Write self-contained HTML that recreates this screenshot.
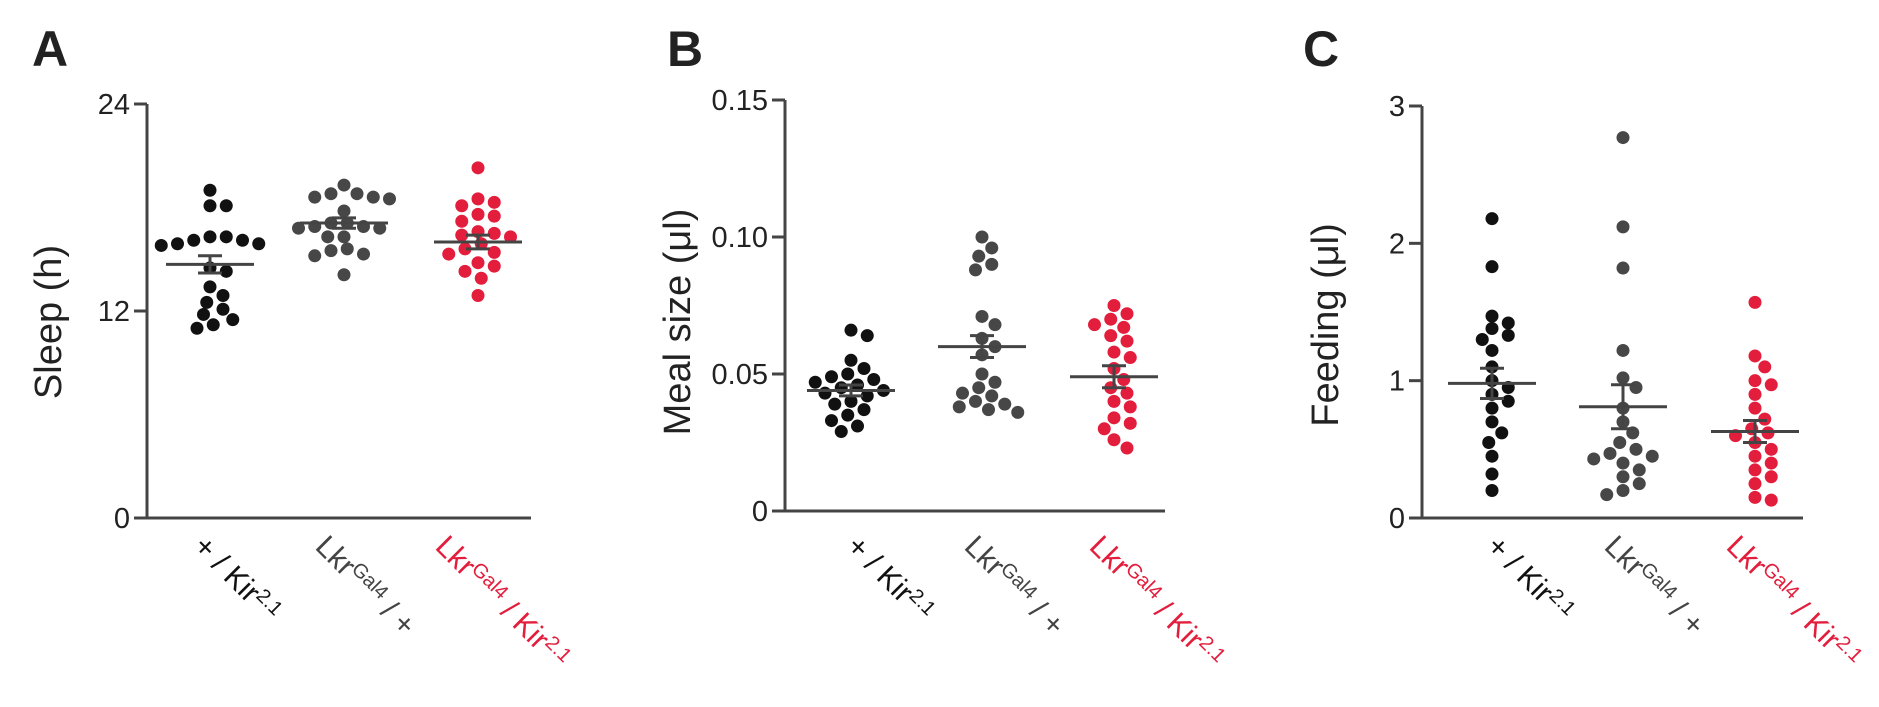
<!DOCTYPE html>
<html><head><meta charset="utf-8"><style>
html,body{margin:0;padding:0;background:#fff;}
svg{display:block;font-family:"Liberation Sans",Arial,sans-serif;}
</style></head><body>
<svg id="fig" width="1879" height="707" viewBox="0 0 1879 707" xmlns="http://www.w3.org/2000/svg"></svg>
<script>
const groups = ["+ / Kir2.1", "LkrGal4 / +", "LkrGal4 / Kir2.1"];
const sleepCtrl1 = [19.0,18.1,18.1,16.3,16.1,15.9,15.8,15.9,16.1,16.3,14.3,14.5,13.4,12.9,12.5,12.1,11.8,11.5,11.2,11.0];
const sleepCtrl2 = [19.3,18.8,18.6,18.5,18.6,18.8,17.8,17.1,16.9,16.8,16.8,16.9,17.1,16.3,16.3,15.6,15.3,15.2,15.5,14.1];
const sleepExp = [20.3,18.3,18.5,18.1,17.5,17.6,17.2,16.6,16.5,16.4,16.3,15.9,15.6,15.4,15.3,14.8,14.6,14.3,13.9,12.9];
const sleepMeans = [14.7,17.1,16.0];
const sleepSem = [0.5,0.3,0.4];
const mealCtrl1 = [0.066,0.064,0.055,0.052,0.050,0.049,0.048,0.047,0.046,0.045,0.044,0.043,0.042,0.040,0.039,0.037,0.035,0.033,0.031,0.029];
const mealCtrl2 = [0.100,0.096,0.093,0.090,0.088,0.071,0.068,0.063,0.060,0.057,0.050,0.047,0.045,0.043,0.042,0.040,0.039,0.038,0.037,0.036];
const mealExp = [0.075,0.072,0.070,0.068,0.067,0.064,0.062,0.058,0.056,0.052,0.048,0.045,0.043,0.040,0.038,0.034,0.032,0.030,0.026,0.023];
const mealMeans = [0.044,0.060,0.049];
const mealSem = [0.002,0.004,0.004];
const feedCtrl1 = [2.18,1.83,1.47,1.42,1.38,1.33,1.30,1.22,1.10,1.00,0.95,0.90,0.85,0.80,0.70,0.62,0.55,0.45,0.32,0.20];
const feedCtrl2 = [2.77,2.12,1.82,1.22,1.02,0.95,0.80,0.70,0.62,0.55,0.50,0.47,0.45,0.43,0.40,0.35,0.30,0.25,0.20,0.17];
const feedExp = [1.57,1.18,1.10,1.00,0.97,0.90,0.80,0.72,0.65,0.62,0.60,0.55,0.50,0.45,0.40,0.35,0.30,0.25,0.15,0.13];
const feedMeans = [0.98,0.81,0.63];
const feedSem = [0.11,0.16,0.08];
const sleepTicks = [0,12,24];
const mealTicks = [0,0.05,0.10,0.15];
const mealTickLabels = ["0","0.05","0.10","0.15"];
const feedTicks = [0,1,2,3];

const NS="http://www.w3.org/2000/svg";
const svg=document.getElementById('fig');
const colors=["#111111","#474747","#e31d3c"];
function mk(tag,attrs,parent){const e=document.createElementNS(NS,tag);for(const k in attrs)e.setAttribute(k,attrs[k]);(parent||svg).appendChild(e);return e;}

function swarm(vals,yf,r){
  const idx=vals.map((v,i)=>i).sort((a,b)=>vals[b]-vals[a]);
  const placed=[];const out=new Array(vals.length);
  const D=2*r+3;
  for(const i of idx){
    const y=yf(vals[i]);let best=0;
    for(let k=0;k<60;k++){
      const cands=k===0?[0]:[k*r*0.5,-k*r*0.5];let ok=null;
      for(const c of cands){if(placed.every(p=>Math.hypot(p.x-c,(p.y-y)*1.3)>=D)){ok=c;break;}}
      if(ok!==null){best=ok;break;}
    }
    placed.push({x:best,y:y});out[i]={dx:best,y:y};
  }
  return out;
}

function panel(o){
  const g=mk('g',{});
  
  
  const y=v=>o.y0+(o.y1-o.y0)*(v-o.vmin)/(o.vmax-o.vmin);
  const letter=mk('text',{x:o.letterX,y:66,'font-size':50,'font-weight':'bold',fill:'#222'},g);
  letter.textContent=o.letter;
  
  
  const ya=mk('line',{x1:o.ax,y1:y(o.vmax),x2:o.ax,y2:o.y0+1.5,stroke:'#444','stroke-width':3},g);
  
  
  const xa=mk('line',{x1:o.ax-1.5,y1:o.y0,x2:o.xend,y2:o.y0,stroke:'#444','stroke-width':3},g);
  
  
  o.ticks.forEach((t,i)=>{
    const tk=mk('line',{x1:o.ax-13,y1:y(t),x2:o.ax,y2:y(t),stroke:'#444','stroke-width':3},g);
    
    
    const tl=mk('text',{x:o.ax-17,y:y(t)+10,'font-size':29,'text-anchor':'end',fill:'#222'},g);
    tl.textContent=o.tickLabels[i];
    
    
  });
  const tt=mk('text',{x:0,y:0,'font-size':38,'text-anchor':'middle',fill:'#222',transform:`translate(${o.titleX},${o.titleY}) rotate(-90)`},g);
  tt.textContent=o.title;
  
  
  o.series.forEach((vals,gi)=>{
    const cx=o.cx[gi];
    const pts=swarm(vals,y,6.5);
    pts.forEach(p=>{
      const c=mk('circle',{cx:cx+p.dx,cy:p.y,r:6.5,fill:colors[gi]},g);
      
      
    });
    const m=y(o.means[gi]),hi=y(o.means[gi]+o.sem[gi]),lo=y(o.means[gi]-o.sem[gi]);
    const ml=mk('line',{x1:cx-44,y1:m,x2:cx+44,y2:m,stroke:'#444','stroke-width':3},g);
    
    
    const eb=mk('path',{d:`M${cx},${hi}V${lo}M${cx-12},${hi}H${cx+12}M${cx-12},${lo}H${cx+12}`,stroke:'#444','stroke-width':3,fill:'none'},g);
    
    
    const lx=o.lab[gi];
    const lt=mk('text',{x:0,y:0,'font-size':30,fill:gi===2?'#e31d3c':(gi===1?'#444':'#111'),transform:`translate(${lx},548) rotate(45)`},g);
    
    
    const parts = gi===0?[["+ / Kir",0],["2.1",1]]:gi===1?[["Lkr",0],["Gal4",1],[" / +",0]]:[["Lkr",0],["Gal4",1],[" / Kir",0],["2.1",1]];
    parts.forEach(([s,sup],k)=>{
      const prevSup=k>0?parts[k-1][1]:0;
      const dy=sup&&!prevSup?-10:(!sup&&prevSup?10:0);
      const ts=mk('tspan',sup?{'font-size':20,dy:dy}:{dy:dy},lt);
      ts.textContent=s;
    });
  });
}

panel({name:'panel-a-sleep',letter:'A',letterX:32,ax:147,xend:531,y0:518,y1:104,vmin:0,vmax:24,
  ticks:sleepTicks,tickLabels:sleepTicks.map(String),title:'Sleep (h)',titleX:61,titleY:322,
  series:[sleepCtrl1,sleepCtrl2,sleepExp],means:sleepMeans,sem:sleepSem,cx:[210,344,478],lab:[192,314,434]});
panel({name:'panel-b-meal-size',letter:'B',letterX:667,ax:785,xend:1165,y0:511,y1:100,vmin:0,vmax:0.15,
  ticks:mealTicks,tickLabels:mealTickLabels,title:'Meal size (μl)',titleX:690,titleY:322,
  series:[mealCtrl1,mealCtrl2,mealExp],means:mealMeans,sem:mealSem,cx:[851,982,1114],lab:[845,963,1088]});
panel({name:'panel-c-feeding',letter:'C',letterX:1303,ax:1422,xend:1803,y0:518,y1:106,vmin:0,vmax:3,
  ticks:feedTicks,tickLabels:feedTicks.map(String),title:'Feeding (μl)',titleX:1338,titleY:325,
  series:[feedCtrl1,feedCtrl2,feedExp],means:feedMeans,sem:feedSem,cx:[1492,1623,1755],lab:[1485,1603,1725]});
</script>
</body></html>
